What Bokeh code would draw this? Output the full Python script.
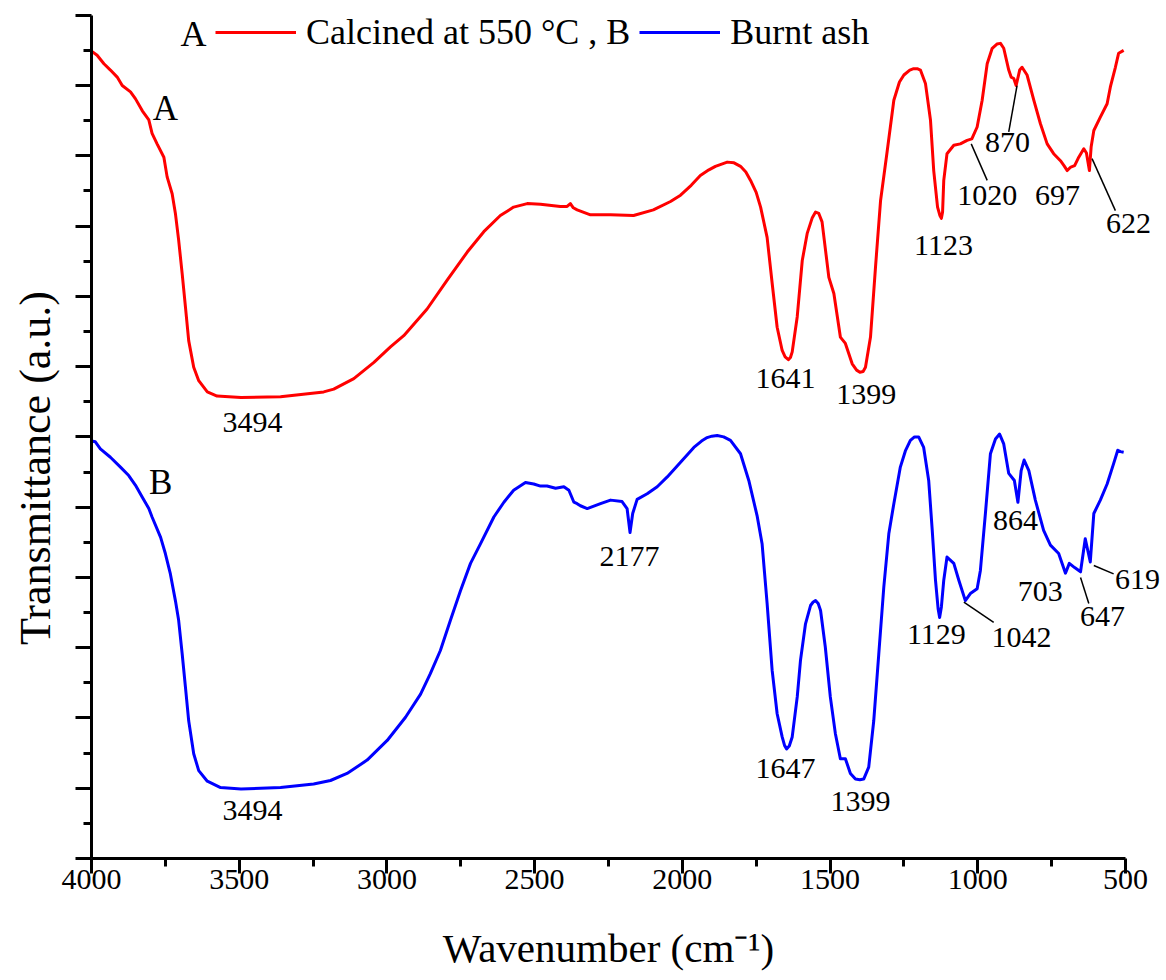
from bokeh.plotting import figure
from bokeh.models import Range1d, FixedTicker, Label, Legend, LegendItem, CustomJSTickFormatter
from bokeh.embed import file_html
from bokeh.resources import INLINE

FONT = "Liberation Serif"

# FTIR spectrum A: sample calcined at 550 °C (wavenumber cm^-1, transmittance a.u.)
wn_a = [4000, 3981, 3958, 3936, 3913, 3896, 3868, 3851, 3828, 3806, 3795, 3778, 3755, 3744,
        3727, 3716, 3705, 3693, 3682, 3671, 3654, 3637, 3608, 3575, 3494, 3360, 3214, 3180,
        3112, 3044, 2988, 2943, 2864, 2796, 2728, 2672, 2616, 2571, 2525, 2480, 2413, 2390,
        2379, 2369, 2356, 2311, 2243, 2165, 2098, 2040, 2006, 1970, 1939, 1910, 1888, 1848,
        1825, 1803, 1785, 1769, 1750, 1735, 1713, 1696, 1679, 1662, 1652, 1641, 1634, 1628,
        1611, 1594, 1577, 1560, 1549, 1538, 1527, 1504, 1487, 1465, 1448, 1425, 1410, 1399,
        1388, 1380, 1363, 1346, 1329, 1307, 1284, 1265, 1250, 1230, 1217, 1205, 1194, 1177,
        1160, 1149, 1136, 1128, 1123, 1119, 1115, 1104, 1081, 1059, 1036, 1020, 1002, 985,
        968, 951, 935, 923, 912, 895, 887, 878, 870, 858, 850, 833, 810, 788, 765, 743, 720,
        708, 697, 685, 672, 658, 641, 632, 622, 616, 607, 585, 562, 551, 534, 523, 506]
tr_a = [11.49, 11.43, 11.31, 11.22, 11.12, 11.00, 10.91, 10.81, 10.64, 10.51, 10.32, 10.17,
        9.98, 9.70, 9.46, 9.18, 8.80, 8.32, 7.85, 7.37, 6.99, 6.80, 6.64, 6.58, 6.56, 6.57,
        6.64, 6.68, 6.83, 7.06, 7.28, 7.44, 7.82, 8.23, 8.63, 8.92, 9.15, 9.27, 9.32, 9.31,
        9.28, 9.28, 9.32, 9.26, 9.23, 9.16, 9.16, 9.15, 9.23, 9.35, 9.44, 9.58, 9.72, 9.80,
        9.85, 9.91, 9.90, 9.85, 9.77, 9.65, 9.48, 9.27, 8.84, 8.19, 7.56, 7.23, 7.14, 7.10,
        7.13, 7.21, 7.71, 8.51, 8.90, 9.12, 9.20, 9.18, 9.06, 8.27, 8.04, 7.42, 7.33, 7.04,
        6.95, 6.92, 6.93, 6.99, 7.42, 8.42, 9.36, 10.05, 10.79, 11.05, 11.15, 11.22, 11.24,
        11.24, 11.22, 11.03, 10.51, 9.79, 9.27, 9.15, 9.11, 9.20, 9.65, 10.03, 10.15, 10.17,
        10.22, 10.24, 10.41, 10.79, 11.31, 11.53, 11.59, 11.60, 11.53, 11.22, 11.12, 11.10,
        11.00, 11.22, 11.26, 11.15, 10.79, 10.46, 10.17, 10.03, 9.93, 9.86, 9.79, 9.84, 9.86,
        9.98, 10.10, 10.04, 9.79, 10.13, 10.36, 10.55, 10.74, 10.98, 11.26, 11.46, 11.50]

# FTIR spectrum B: burnt ash
wn_b = [4000, 3987, 3970, 3936, 3902, 3874, 3851, 3828, 3806, 3795, 3766, 3750, 3733, 3716,
        3705, 3693, 3682, 3671, 3654, 3637, 3608, 3563, 3494, 3360, 3248, 3191, 3135, 3067,
        2999, 2937, 2886, 2853, 2819, 2785, 2751, 2717, 2683, 2638, 2604, 2571, 2531, 2503,
        2480, 2458, 2429, 2401, 2384, 2367, 2356, 2345, 2322, 2277, 2243, 2204, 2187, 2177,
        2168, 2153, 2119, 2085, 2051, 2006, 1961, 1935, 1916, 1900, 1882, 1860, 1837, 1803,
        1775, 1747, 1730, 1713, 1696, 1679, 1662, 1654, 1647, 1638, 1628, 1611, 1600, 1583,
        1566, 1557, 1549, 1540, 1532, 1516, 1499, 1482, 1465, 1448, 1431, 1414, 1399, 1386,
        1369, 1352, 1335, 1318, 1301, 1284, 1262, 1245, 1228, 1214, 1200, 1183, 1166, 1154,
        1143, 1134, 1129, 1123, 1115, 1104, 1081, 1064, 1042, 1025, 1002, 991, 974, 957, 940,
        926, 912, 895, 876, 864, 853, 843, 827, 805, 777, 754, 726, 703, 690, 672, 652, 636,
        619, 607, 585, 562, 540, 526, 517, 506]
tr_b = [5.94, 5.93, 5.83, 5.71, 5.57, 5.45, 5.31, 5.14, 4.98, 4.86, 4.57, 4.34, 4.05, 3.67,
        3.39, 2.91, 2.44, 1.96, 1.49, 1.25, 1.10, 1.01, 0.99, 1.01, 1.06, 1.11, 1.21, 1.40,
        1.68, 2.01, 2.34, 2.63, 2.96, 3.39, 3.81, 4.20, 4.48, 4.86, 5.07, 5.24, 5.35, 5.33,
        5.30, 5.30, 5.27, 5.29, 5.24, 5.07, 5.05, 5.02, 4.98, 5.05, 5.10, 5.08, 4.98, 4.64,
        4.91, 5.11, 5.19, 5.29, 5.43, 5.64, 5.85, 5.94, 5.99, 6.01, 6.02, 6.00, 5.95, 5.76,
        5.38, 4.88, 4.48, 3.63, 2.68, 2.06, 1.73, 1.61, 1.56, 1.60, 1.73, 2.30, 2.82, 3.34,
        3.60, 3.65, 3.67, 3.63, 3.53, 3.01, 2.30, 1.78, 1.42, 1.42, 1.21, 1.13, 1.12, 1.13,
        1.30, 1.96, 2.91, 3.86, 4.62, 5.05, 5.57, 5.80, 5.95, 6.00, 6.00, 5.85, 5.38, 4.67,
        3.96, 3.55, 3.43, 3.58, 3.96, 4.29, 4.20, 3.96, 3.67, 3.77, 3.84, 4.10, 4.91, 5.76,
        5.97, 6.04, 5.90, 5.48, 5.38, 5.07, 5.52, 5.67, 5.52, 5.10, 4.67, 4.46, 4.34, 4.06,
        4.20, 4.14, 4.08, 4.55, 4.22, 4.91, 5.10, 5.33, 5.62, 5.81, 5.79, 5.78]

# Axis ticks
x_ticks = [4000, 3500, 3000, 2500, 2000, 1500, 1000, 500]
x_minor = [3750, 3250, 2750, 2250, 1750, 1250, 750]
y_ticks = list(range(0, 13))
y_minor = [i + 0.5 for i in range(12)]

# Band assignments: (text, x, y) anchor of each label
bands_a = [("3494", 3455, 6.21), ("1641", 1651, 6.83), ("1399", 1377, 6.60),
           ("1123", 1116, 8.73), ("1020", 968, 9.44), ("870", 899, 10.19),
           ("697", 730, 9.44), ("622", 490, 9.04)]
bands_b = [("3494", 3455, 0.68), ("2177", 2179, 4.30), ("1647", 1651, 1.28),
           ("1399", 1397, 0.81), ("1129", 1140, 3.19), ("1042", 852, 3.15),
           ("864", 872, 4.81), ("703", 788, 3.80), ("647", 578, 3.44), ("619", 459, 3.97)]
# Leader lines from a band to its label: (x0, y0, x1, y1)
leaders = [(1022, 10.17, 968, 9.65), (867, 11.00, 895, 10.34), (613, 9.96, 534, 9.22),
           (1047, 3.65, 946, 3.36), (652, 4.00, 624, 3.63), (607, 4.17, 540, 4.05)]

NBSP = "\u00a0"

# The frame runs a little past the axis ends so band labels near 500 cm-1 stay visible
p = figure(width=1166, height=980, x_range=Range1d(4000, 361), y_range=Range1d(0, 12.21),
           output_backend="svg", toolbar_location=None,
           min_border_left=91, min_border_right=0, min_border_top=0, min_border_bottom=122)
p.outline_line_color = None
p.grid.visible = False
p.background_fill_color = "white"
p.border_fill_color = "white"

ra = p.line(wn_a, tr_a, line_color="#ff0000", line_width=3, line_join="round")
rb = p.line(wn_b, tr_b, line_color="#0000ff", line_width=3, line_join="round")

p.segment(x0=[s[0] for s in leaders], y0=[s[1] for s in leaders],
          x1=[s[2] for s in leaders], y1=[s[3] for s in leaders],
          line_color="black", line_width=1.5)

for text, x, y in bands_a + bands_b:
    p.add_layout(Label(x=x, y=y, text=text, text_align="center", text_baseline="middle",
                       text_font=FONT, text_font_size="30px", text_color="black"))

for text, x, y in [("A", 3750, 10.68), ("B", 3766, 5.35)]:
    p.add_layout(Label(x=x, y=y, text=text, text_align="center", text_baseline="middle",
                       text_font=FONT, text_font_size="35px", text_color="black"))

# Legend: "A —— Calcined at 550 °C , B —— Burnt ash"
p.add_layout(Label(x=3655, y=11.74, text="A", text_align="center", text_baseline="middle",
                   text_font=FONT, text_font_size="36px", text_color="black"))
legend = Legend(items=[LegendItem(label="Calcined at 550 °C , B", renderers=[ra]),
                       LegendItem(label="Burnt ash", renderers=[rb])],
                orientation="horizontal", location=(124, 805),
                glyph_width=81, glyph_height=20, label_standoff=10, spacing=9,
                padding=0, margin=0, border_line_color=None, background_fill_alpha=0,
                label_text_font=FONT, label_text_font_size="36px",
                label_text_color="black")
p.add_layout(legend)

xa = p.xaxis[0]
xa.bounds = (500, 4000)
xa.ticker = FixedTicker(ticks=x_ticks, minor_ticks=x_minor)
xa.axis_line_width = 3
xa.major_tick_line_width = 3
xa.minor_tick_line_width = 3
xa.major_tick_out = 15
xa.major_tick_in = 0
xa.minor_tick_out = 8
xa.minor_tick_in = 0
xa.major_label_text_font = FONT
xa.major_label_text_font_size = "30px"
xa.major_label_text_color = "black"
xa.major_label_standoff = -4
xa.axis_label = "Wavenumber (cm⁻¹)" + NBSP * 4
xa.axis_label_text_font = FONT
xa.axis_label_text_font_size = "41px"
xa.axis_label_text_font_style = "normal"
xa.axis_label_text_color = "black"
xa.axis_label_standoff = 33

ya = p.yaxis[0]
ya.bounds = (0, 12)
ya.ticker = FixedTicker(ticks=y_ticks, minor_ticks=y_minor)
ya.formatter = CustomJSTickFormatter(code="return ''")
ya.axis_line_width = 3
ya.major_tick_line_width = 3
ya.minor_tick_line_width = 3
ya.major_tick_out = 16
ya.major_tick_in = 0
ya.minor_tick_out = 8
ya.minor_tick_in = 0
ya.major_label_standoff = 0
ya.axis_label = "Transmittance (a.u.)" + NBSP * 7
ya.axis_label_text_font = FONT
ya.axis_label_text_font_size = "44px"
ya.axis_label_text_font_style = "normal"
ya.axis_label_text_color = "black"
ya.axis_label_standoff = 16

open("out.html", "w").write(file_html(p, INLINE))
